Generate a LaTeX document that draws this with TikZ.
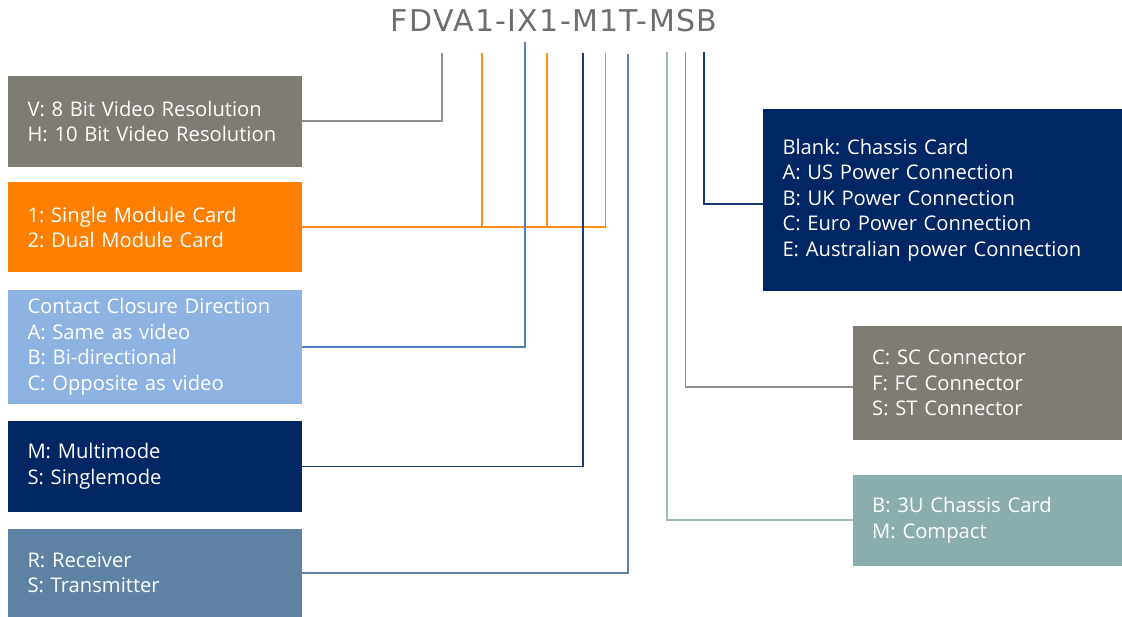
\documentclass[tikz,border=0pt]{standalone}
\usepackage{xcolor}
\usepackage{fontspec}
\setmainfont{Open Sans}
\newfontfamily\codefont{DejaVu Sans}
\usepackage{tikz}
\usetikzlibrary{positioning, calc}

\definecolor{titlegrey}{HTML}{6E6E6E}
\definecolor{stonegrey}{HTML}{7F7C74}
\definecolor{cardorange}{HTML}{FF7F00}
\definecolor{skyblue}{HTML}{8DB3E2}
\definecolor{lineblue}{HTML}{4F81BD}
\definecolor{deepnavy}{HTML}{002664}
\definecolor{steelblue}{HTML}{5E82A3}
\definecolor{seateal}{HTML}{8CADAD}

\frenchspacing

\begin{document}
\begin{tikzpicture}[x=1pt,y=-1pt,
	optbox/.style={rectangle, fill=#1, text=white, align=left, inner xsep=19.5pt, inner ysep=0pt,
		font=\fontsize{20.2}{25.5}\selectfont},
	lead/.style={draw=#1, line width=1.8pt}]

% frame of the page
\useasboundingbox (0,0) rectangle (1122,617);

% set box dimensions
\pgfmathsetmacro{\lw}{293.7}
\pgfmathsetmacro{\rw}{269.3}

% order code
\node[anchor=base, text=titlegrey, font=\codefont\fontsize{30}{34}\selectfont\addfontfeatures{LetterSpace=4.5}] (code) at (554,32) {FDVA1-IX1-M1T-MSB};

% top ends of the leads, one under each letter
\coordinate (tv) at (442,53);
\coordinate (to1) at (482,53);
\coordinate (tc) at (525,42);
\coordinate (to2) at (547,53);
\coordinate (tf) at (583,53);
\coordinate (to3) at (605.5,53);
\coordinate (td) at (628,54);
\coordinate (tp) at (667,52);
\coordinate (tk) at (685.5,52);
\coordinate (tb) at (704,52);

% left column of option boxes
\node[optbox=stonegrey, text width=\lw-39, minimum height=90.7] (res) at (154.85,121.3)
	{V: 8 Bit Video Resolution\\H: 10 Bit Video Resolution};
\node[optbox=cardorange, text width=\lw-39, minimum height=90] (mod) at (154.85,227.3)
	{1: Single Module Card\\2: Dual Module Card};
\node[optbox=skyblue, text width=\lw-39, minimum height=113.7] (ccd) at (154.85,346.9)
	{Contact Closure Direction\\A: Same as video\\B: Bi-directional\\C: Opposite as video};
\node[optbox=deepnavy, text width=\lw-39, minimum height=90.7] (fib) at (154.85,466.4)
	{M: Multimode\\S: Singlemode};
\node[optbox=steelblue, text width=\lw-39, minimum height=87.7] (dir) at (154.85,572.9)
	{R: Receiver\\S: Transmitter};

% right column of option boxes
\node[optbox=deepnavy, text width=359-39, minimum height=181.7] (pwr) at (942.5,199.9)
	{Blank: Chassis Card\\A: US Power Connection\\B: UK Power Connection\\C: Euro Power Connection\\E: Australian power Connection};
\node[optbox=stonegrey, text width=\rw-39, minimum height=113.7] (con) at (987.35,382.85)
	{C: SC Connector\\F: FC Connector\\S: ST Connector};
\node[optbox=seateal, text width=\rw-39, minimum height=90.7] (pkg) at (987.35,520.35)
	{B: 3U Chassis Card\\M: Compact};

% leads from the code to the boxes
\draw[lead=stonegrey!85] (res.east) -| (tv);
\draw[lead=cardorange!90] (mod.east) -| (to3);
\draw[lead=cardorange!90] (to1) -- (to1 |- mod.east);
\draw[lead=cardorange!90] (to2) -- (to2 |- mod.east);
\draw[lead=lineblue] (ccd.east) -| (tc);
\draw[lead=deepnavy!90] (fib.east) -| (tf);
\draw[lead=steelblue] (dir.east) -| (td);
\draw[lead=seateal!85] (pkg.west) -| (tp);
\draw[lead=stonegrey!85] ($(con.west)+(0,4)$) -| (tk);
\draw[lead=deepnavy!90] ($(pwr.west)+(0,4)$) -| (tb);

\end{tikzpicture}
\end{document}
